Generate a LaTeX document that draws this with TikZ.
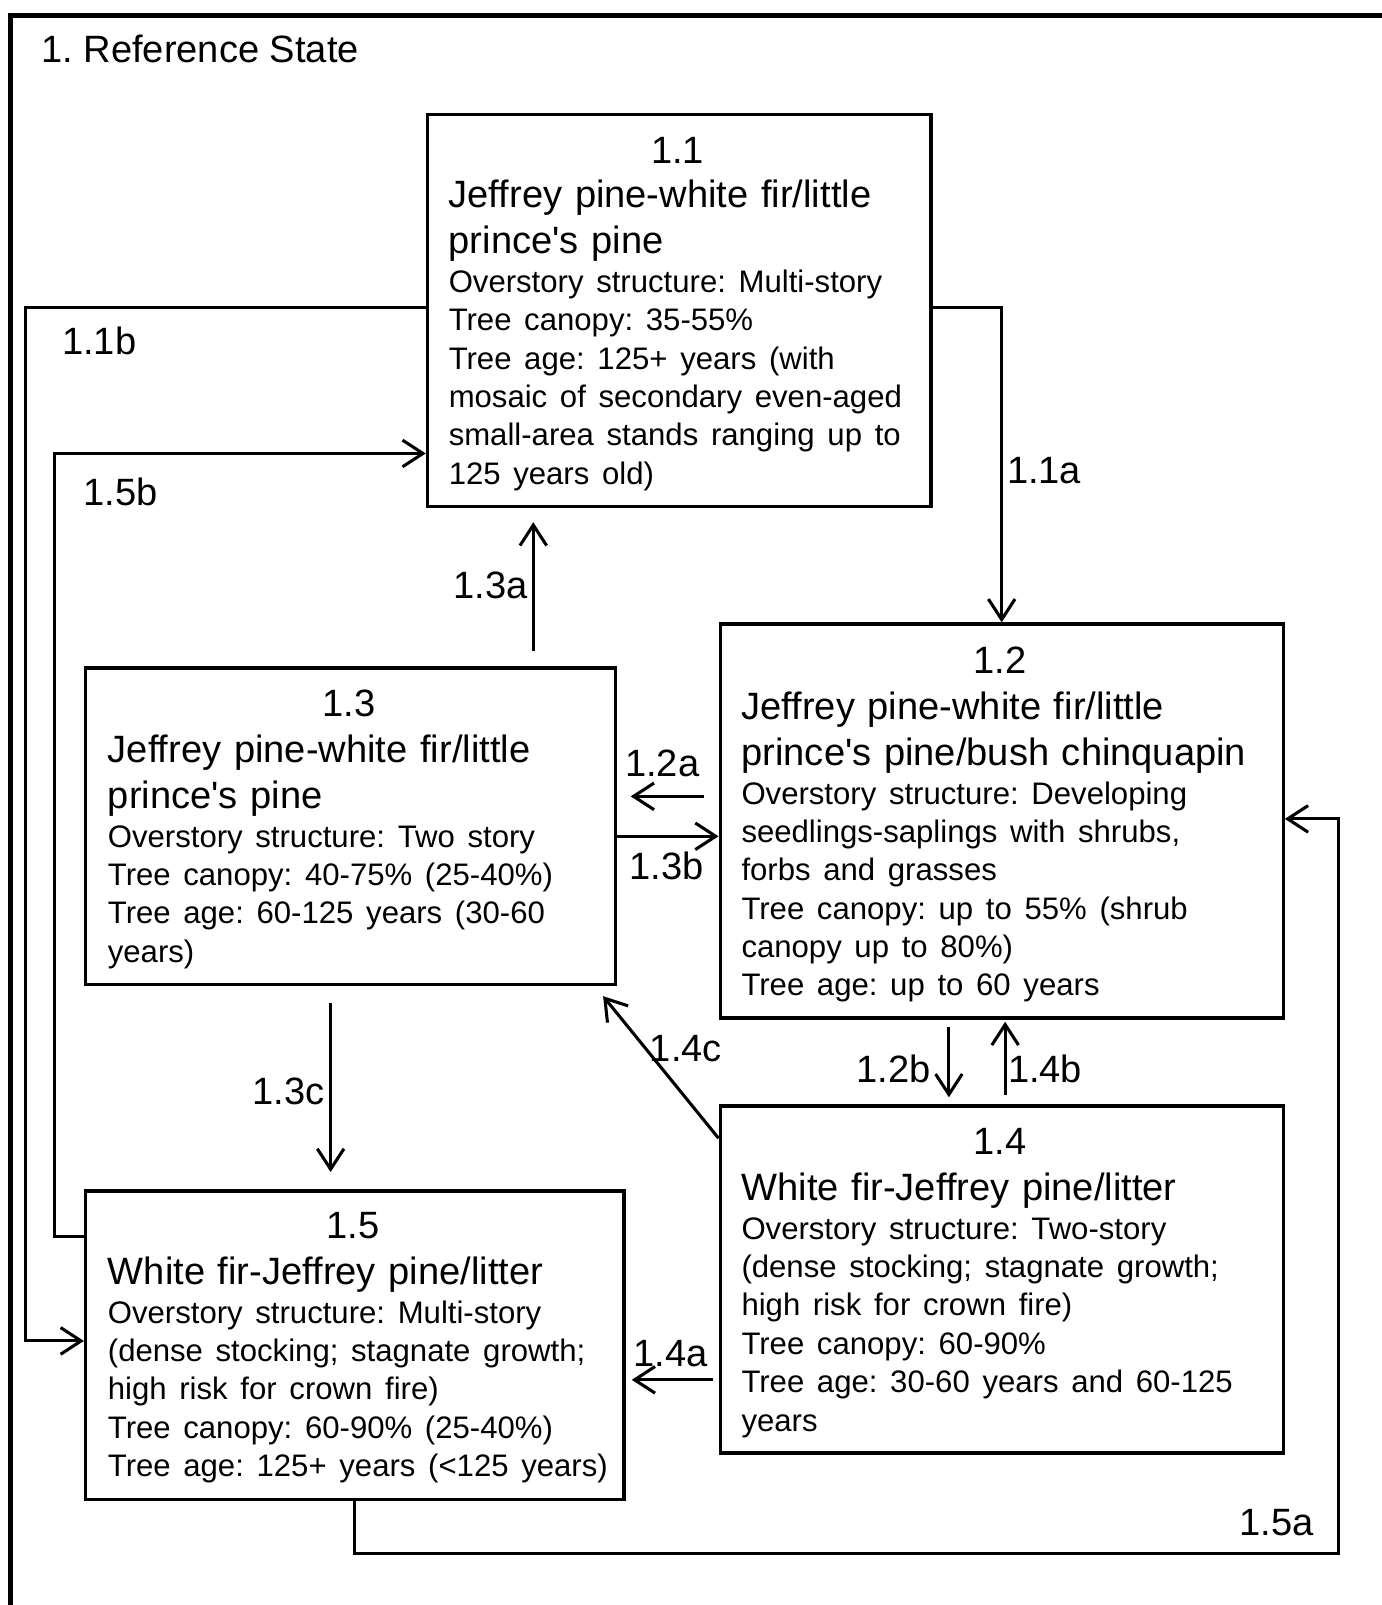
\documentclass[tikz,border=0pt]{standalone}
\usepackage{fontspec}
\setmainfont{Liberation Sans}
\usetikzlibrary{arrows.meta,calc}
\frenchspacing
\newcommand\bigf{\fontsize{18.6pt}{22.5pt}\selectfont}
\newcommand\smf{\fontsize{15.2pt}{18.75pt}\selectfont}
\newcommand\ap{\textquotesingle}
\begin{document}
\begin{tikzpicture}[x=0.5pt,y=-0.5pt,
  box/.style={draw, line width=1.6pt, inner sep=0pt, anchor=north west},
  arr/.style={line width=1.5pt, -{Straight Barb[length=10pt,width=13pt,line width=1.5pt]}},
  lab/.style={font=\bigf, inner sep=0pt},
  num/.style={font=\bigf, inner sep=0pt, anchor=base},
  body/.style={font=\bigf, inner sep=0pt, anchor=base west, text width=262pt, align=left},
  ttl/.style={font=\bigf, inner sep=0pt, anchor=base west}]
\useasboundingbox (0,0) rectangle (1350,1568);
% outer frame (cropped at right and bottom)
\draw[line width=2.4pt] (10,1568) -- (10,15) -- (1350,15);
\node[ttl] (title) at (40,61) {1. Reference State};

% boxes
\node[box, minimum width=246pt, minimum height=191.5pt] (b11) at (416,110) {};
\node[box, minimum width=275pt, minimum height=192.5pt] (b12) at (702,608) {};
\node[box, minimum width=259pt, minimum height=154.5pt] (b13) at (82,651) {};
\node[box, minimum width=275pt, minimum height=169.5pt] (b14) at (702,1079) {};
\node[box, minimum width=263pt, minimum height=150.5pt] (b15) at (82,1162) {};

% numbers
\node[num] (n11) at (662,160) {1.1};
\node[num] (n12) at (977,658) {1.2};
\node[num] (n13) at (341,700) {1.3};
\node[num] (n14) at (977,1128) {1.4};
\node[num] (n15) at (345,1210) {1.5};

% bodies
\node[body] (t11) at (438,203) {Jeffrey pine-white fir/little\\prince\ap s pine\par
 \smf Overstory structure: Multi-story\\Tree canopy: 35-55\%\\Tree age: 125+ years (with\\mosaic of secondary even-aged\\small-area stands ranging up to\\125 years old)\par};
\node[body] (t12) at (724,703) {Jeffrey pine-white fir/little\\prince\ap s pine/bush chinquapin\par
 \smf Overstory structure: Developing\\seedlings-saplings with shrubs,\\forbs and grasses\\Tree canopy: up to 55\% (shrub\\canopy up to 80\%)\\Tree age: up to 60 years\par};
\node[body] (t13) at (105,745) {Jeffrey pine-white fir/little\\prince\ap s pine\par
 \smf Overstory structure: Two story\\Tree canopy: 40-75\% (25-40\%)\\Tree age: 60-125 years (30-60\\years)\par};
\node[body] (t14) at (724,1173) {White fir-Jeffrey pine/litter\par
 \smf Overstory structure: Two-story\\(dense stocking; stagnate growth;\\high risk for crown fire)\\Tree canopy: 60-90\%\\Tree age: 30-60 years and 60-125\\years\par};
\node[body] (t15) at (105,1255) {White fir-Jeffrey pine/litter\par
 \smf Overstory structure: Multi-story\\(dense stocking; stagnate growth;\\high risk for crown fire)\\Tree canopy: 60-90\% (25-40\%)\\Tree age: 125+ years (<125 years)\par};

% connectors
\draw[arr] (b11.east |- 0,300) -| (b12.north);
\draw[arr] (b11.west |- 0,300) -| (25,1310) -- (b15.west |- 0,1310);
\draw[arr] (b15.west |- 0,1208) -| (53,443) -- (b11.west |- 0,443);
\draw[arr] (b15.south) |- (1308,1518) |- (b12.east |- 0,800);
\draw[arr, shorten <=7.5pt, shorten >=7pt] (b13.north -| 521,0) -- (b11.south -| 521,0);
\draw[arr, shorten <=7pt, shorten >=6.5pt] (b12.west |- 0,778) -- (b13.east |- 0,778);
\draw[arr] (b13.east |- 0,817) -- (b12.west |- 0,817);
\draw[arr, shorten <=8.5pt, shorten >=8.5pt] (b13.south -| 323,0) -- (b15.north -| 323,0);
\draw[arr] (b14.west |- 0,1112) -- ($(b13.south east)+(-14,10)$);
\draw[arr, shorten <=3.5pt, shorten >=3.5pt] (b12.south -| 927,0) -- (b14.north -| 927,0);
\draw[arr, shorten <=4.5pt, shorten >=1pt] (b14.north -| 982,0) -- (b12.south -| 982,0);
\draw[arr, shorten <=2.5pt, shorten >=3pt] (b14.west |- 0,1348) -- (b15.east |- 0,1348);

% connector labels
\node[lab] (l11a) at (1020,460) {1.1a};
\node[lab] (l11b) at (97,333) {1.1b};
\node[lab] (l15b) at (118,481) {1.5b};
\node[lab] (l13a) at (479,572) {1.3a};
\node[lab] (l12a) at (647,746) {1.2a};
\node[lab] (l13b) at (651,846) {1.3b};
\node[lab] (l13c) at (282,1066) {1.3c};
\node[lab] (l14c) at (670,1024) {1.4c};
\node[lab] (l12b) at (873,1044) {1.2b};
\node[lab] (l14b) at (1021,1044) {1.4b};
\node[lab] (l14a) at (655,1322) {1.4a};
\node[lab] (l15a) at (1247,1487) {1.5a};
\end{tikzpicture}
\end{document}
